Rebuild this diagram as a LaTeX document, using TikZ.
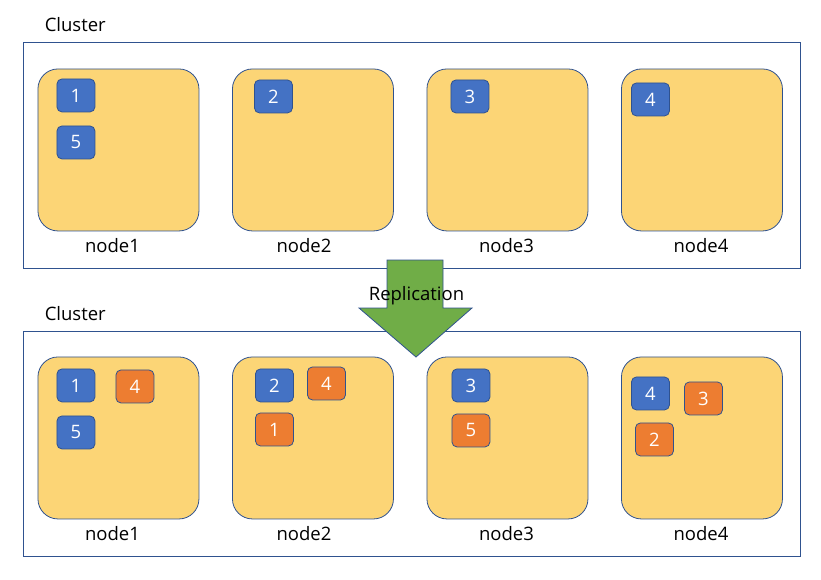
\documentclass[tikz,border=0pt]{standalone}
\usepackage{fontspec}
\setmainfont{Open Sans}
\usetikzlibrary{positioning}
\definecolor{hostcolor}{HTML}{FCD576}
\definecolor{primarycolor}{HTML}{4472C4}
\definecolor{replicacolor}{HTML}{ED7D31}
\definecolor{edgecolor}{HTML}{2F528F}
\definecolor{arrowcolor}{HTML}{70AD47}

\begin{document}
\begin{tikzpicture}[
    x=1pt, y=-1pt,
    node distance=32.7pt,
    cluster/.style={rectangle, draw=edgecolor, line width=0.9pt,
                    minimum width=777pt, minimum height=226pt},
    host/.style={rectangle, rounded corners=20pt, draw=edgecolor, fill=hostcolor,
                 line width=0.8pt, minimum width=161pt, minimum height=162pt},
    shard/.style={rectangle, rounded corners=5pt, draw=edgecolor, line width=0.8pt,
                  minimum width=38pt, minimum height=33pt, inner sep=0pt,
                  text=white, font=\fontsize{18.5}{22}\selectfont},
    primary/.style={shard, fill=primarycolor},
    replica/.style={shard, fill=replicacolor},
    caption/.style={inner sep=0pt, font=\fontsize{18.5}{22}\selectfont},
]
\useasboundingbox (0,0) rectangle (821,579);

% Cluster before
\node[cluster] (before) at (411.5,155) {};
\node[caption, above right=10pt and 22pt of before.north west] (beforelbl) {Cluster};

\node[host, below right=27pt and 15pt of before.north west] (a1) {};
\node[host, right=of a1] (a2) {};
\node[host, right=of a2] (a3) {};
\node[host, right=of a3] (a4) {};

\node[caption, below=7pt of a1, xshift=-6pt] (a1lbl) {node1};
\node[caption, below=7pt of a2, xshift=-9pt] (a2lbl) {node2};
\node[caption, below=7pt of a3, xshift=-1pt] (a3lbl) {node3};
\node[caption, below=7pt of a4, xshift=-1pt] (a4lbl) {node4};

\node[primary, below right=10pt and 19pt of a1.north west] (a1p1) {1};
\node[primary, below right=57pt and 19pt of a1.north west] (a1p5) {5};
\node[primary, below right=11pt and 22pt of a2.north west] (a2p2) {2};
\node[primary, below right=11pt and 24pt of a3.north west] (a3p3) {3};
\node[primary, below right=14pt and 10pt of a4.north west] (a4p4) {4};

% Cluster after
\node[cluster, minimum height=225pt] (after) at (411.5,443.5) {};
\node[caption, above right=10pt and 22pt of after.north west] (afterlbl) {Cluster};

\node[host, below right=26pt and 15pt of after.north west] (b1) {};
\node[host, right=of b1] (b2) {};
\node[host, right=of b2] (b3) {};
\node[host, right=of b3] (b4) {};

\node[caption, below=7pt of b1, xshift=-6pt] (b1lbl) {node1};
\node[caption, below=7pt of b2, xshift=-9pt] (b2lbl) {node2};
\node[caption, below=7pt of b3, xshift=-1pt] (b3lbl) {node3};
\node[caption, below=7pt of b4, xshift=-1pt] (b4lbl) {node4};

\node[primary, below right=12pt and 19pt of b1.north west] (b1p1) {1};
\node[replica, below right=13pt and 78pt of b1.north west] (b1r4) {4};
\node[primary, below right=59pt and 19pt of b1.north west] (b1p5) {5};

\node[primary, below right=12pt and 23pt of b2.north west] (b2p2) {2};
\node[replica, below right=10pt and 75pt of b2.north west] (b2r4) {4};
\node[replica, below right=56pt and 23pt of b2.north west] (b2r1) {1};

\node[primary, below right=12pt and 25pt of b3.north west] (b3p3) {3};
\node[replica, below right=57pt and 25pt of b3.north west] (b3r5) {5};

\node[primary, below right=20pt and 10pt of b4.north west] (b4p4) {4};
\node[replica, below right=25pt and 63pt of b4.north west] (b4r3) {3};
\node[replica, below right=66pt and 14pt of b4.north west] (b4r2) {2};

% Replication arrow
\path[fill=arrowcolor, draw=edgecolor, line width=0.8pt]
    (387,260) -- (443,260) -- (443,308) -- (472,308) -- (416,357)
    -- (359,308) -- (387,308) -- cycle;
\node[caption, anchor=base] (repl) at (416.5,300) {Replication};

\end{tikzpicture}
\end{document}
